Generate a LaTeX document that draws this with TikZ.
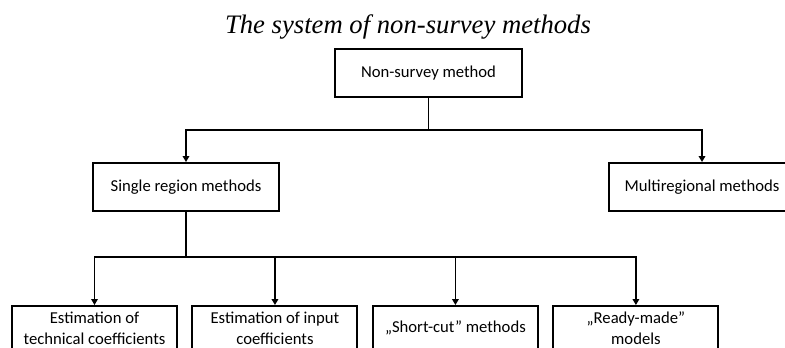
\documentclass[tikz,border=0pt]{standalone}
\usepackage{fontspec}
\setmainfont{Carlito}
\newfontfamily\titlefont{Liberation Serif}
\usetikzlibrary{arrows.meta,positioning}

\begin{document}
\begin{tikzpicture}[x=0.75pt, y=-0.75pt, node distance=10.1pt, line width=1pt,
    main/.style = {draw, line width=1.5pt, minimum width=139.5pt, minimum height=36pt, inner sep=2pt, font=\fontsize{12.5}{16}\selectfont},
    low/.style = {main, minimum width=123.75pt, minimum height=33pt, align=center, anchor=north},
    >={Triangle[width=5pt,length=4.5pt]}]
        \useasboundingbox (0,0) rectangle (785,347);

        \node[font=\titlefont\itshape\fontsize{20}{22}\selectfont, anchor=base] (title) at (408,33) {The system of non-survey methods};

        \node[main, minimum width=140pt] (1) at (428.5,73) {Non-survey method};
        \node[main] (2) at (186,187) {Single region methods};
        \node[main] (7) at (702,187) {Multiregional methods};

        \node[low] (3) at (94.5,305) {Estimation of\\technical coefficients};
        \node[low] (4) [right=of 3] {Estimation of input\\coefficients};
        \node[low] (5) [right=of 4] {„Short-cut” methods};
        \node[low] (6) [right=of 5] {„Ready-made”\\models};

        \coordinate (top) at (428.5,130);
        \coordinate (mid) at (186,257);

        \draw (1) -- (top);
        \draw[->] (top) -| (2);
        \draw[->] (top) -| (7);

        \draw (2) -- (mid);
        \foreach \n in {3,...,6}
            \draw[->] (mid) -| (\n);

    \end{tikzpicture}
\end{document}
